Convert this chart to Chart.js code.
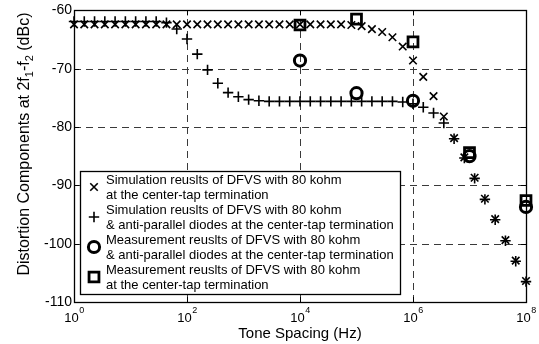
<!DOCTYPE html>
<html><head><meta charset="utf-8">
<script src="https://cdn.jsdelivr.net/npm/chart.js@4/dist/chart.umd.min.js"></script>
<style>html,body{margin:0;padding:0;background:#fff}#wrap{width:539px;height:344px;position:relative}</style>
</head><body><div id="wrap"><canvas id="c" width="539" height="344"></canvas></div>
<script>
// Tone spacing (Hz), log-spaced sample points of the simulations
const toneSpacingHz = [1, 1.520, 2.310, 3.511, 5.337, 8.111, 12.33, 18.74, 28.48, 43.29, 65.79,
  100, 152.0, 231.0, 351.1, 533.7, 811.1, 1233, 1874, 2848, 4329, 6579,
  1e4, 15199, 23101, 35112, 53367, 81113, 123285, 187382, 284804, 432876, 657933,
  1e6, 1.520e6, 2.310e6, 3.511e6, 5.337e6, 8.111e6, 1.233e7, 1.874e7, 2.848e7, 4.329e7, 6.579e7, 1e8];
// Simulation, 80 kohm at the center-tap (x markers)
const simNoDiode = [-62.4, -62.4, -62.4, -62.4, -62.4, -62.4, -62.4, -62.4, -62.4, -62.4, -62.4,
  -62.4, -62.4, -62.4, -62.4, -62.4, -62.4, -62.4, -62.4, -62.4, -62.4, -62.4,
  -62.4, -62.4, -62.4, -62.4, -62.4, -62.5, -62.7, -63.2, -63.7, -64.6, -66.2,
  -68.6, -71.4, -74.7, -78.2, -81.9, -85.2, -88.7, -92.3, -95.8, -99.4, -102.9, -106.4];
// Simulation, 80 kohm & anti-parallel diodes (+ markers)
const simDiode = [-61.9, -61.9, -61.9, -61.9, -61.9, -61.9, -61.9, -61.9, -61.9, -62.1, -63.2,
  -64.9, -67.5, -70.2, -72.5, -74.1, -74.8, -75.3, -75.5, -75.6, -75.6, -75.6,
  -75.6, -75.6, -75.6, -75.6, -75.6, -75.6, -75.6, -75.6, -75.6, -75.6, -75.7,
  -76.0, -76.6, -77.6, -79.3, -82.0, -85.3, -88.8, -92.4, -95.9, -99.5, -103.0, -106.5];
// Measurements
const measHz = [1e4, 1e5, 1e6, 1e7, 1e8];
const measDiode = [-68.6, -74.2, -75.5, -85.0, -93.7];     // circles
const measNoDiode = [-62.5, -61.5, -65.4, -84.4, -92.6];   // squares
// Axes
const xTickValues = [1, 1e2, 1e4, 1e6, 1e8];
const xTickExponents = ['0', '2', '4', '6', '8'];
const yTickValues = [-60, -70, -80, -90, -100, -110];
const xTitle = 'Tone Spacing (Hz)';
const yTitleParts = [['Distortion Components at 2f', false], ['1', true], ['-f', false], ['2', true], [' (dBc)', false]];
const legendLabels = [
  ['Simulation reuslts of DFVS with 80 kohm', 'at the center-tap termination'],
  ['Simulation reuslts of DFVS with 80 kohm', '& anti-parallel diodes at the center-tap termination'],
  ['Measurement reuslts of DFVS with 80 kohm', '& anti-parallel diodes at the center-tap termination'],
  ['Measurement reuslts of DFVS with 80 kohm', 'at the center-tap termination']
];

const FONT = '"Liberation Sans", Arial, Helvetica, sans-serif';
const styles = [
  {pointStyle: 'crossRot', radius: 5.3, borderWidth: 1.6},
  {pointStyle: 'cross', radius: 5.2, borderWidth: 1.6},
  {pointStyle: 'circle', radius: 5.6, borderWidth: 3},
  {pointStyle: 'rect', radius: 7, borderWidth: 2.8}
];
const pts = (xs, ys) => xs.map((x, i) => ({x: x, y: ys[i]}));
const mk = (label, data, s) => ({
  label, data, showLine: false, clip: false,
  pointStyle: s.pointStyle, pointRadius: s.radius, pointHoverRadius: s.radius,
  pointBorderWidth: s.borderWidth, pointHoverBorderWidth: s.borderWidth,
  borderColor: '#000', pointBorderColor: '#000', backgroundColor: 'rgba(0,0,0,0)', pointBackgroundColor: 'rgba(0,0,0,0)'
});

function drawMarker(ctx, s, x, y) {
  ctx.save();
  ctx.strokeStyle = '#000'; ctx.fillStyle = 'rgba(0,0,0,0)'; ctx.lineWidth = s.borderWidth;
  if (Chart.helpers && Chart.helpers.drawPoint) {
    Chart.helpers.drawPoint(ctx, {pointStyle: s.pointStyle, radius: s.radius, borderWidth: s.borderWidth, rotation: 0}, x, y);
  }
  ctx.restore();
}

const decor = {
  id: 'decor',
  beforeDatasetsDraw(chart) {
    const {ctx, chartArea: a, scales: {x, y}} = chart;
    ctx.save();
    ctx.strokeStyle = '#3a3a3a'; ctx.lineWidth = 1; ctx.setLineDash([7, 5]);
    xTickValues.slice(1, -1).forEach(v => {
      const px = Math.round(x.getPixelForValue(v)) + 0.5;
      ctx.beginPath(); ctx.moveTo(px, a.bottom); ctx.lineTo(px, a.top); ctx.stroke();
    });
    yTickValues.slice(1, -1).forEach(v => {
      const py = Math.round(y.getPixelForValue(v)) + 0.5;
      ctx.beginPath(); ctx.moveTo(a.left, py); ctx.lineTo(a.right, py); ctx.stroke();
    });
    ctx.restore();
  },
  afterDraw(chart) {
    const {ctx, chartArea: a, scales: {x, y}} = chart;
    ctx.save();
    // frame
    ctx.strokeStyle = '#000'; ctx.lineWidth = 1.3;
    ctx.strokeRect(Math.round(a.left) + 0.5, Math.round(a.top) + 0.5, Math.round(a.right - a.left), Math.round(a.bottom - a.top));
    // inward ticks
    ctx.lineWidth = 1;
    xTickValues.forEach(v => {
      const px = Math.round(x.getPixelForValue(v)) + 0.5;
      ctx.beginPath(); ctx.moveTo(px, a.bottom); ctx.lineTo(px, a.bottom - 5);
      ctx.moveTo(px, a.top); ctx.lineTo(px, a.top + 5); ctx.stroke();
    });
    yTickValues.forEach(v => {
      const py = Math.round(y.getPixelForValue(v)) + 0.5;
      ctx.beginPath(); ctx.moveTo(a.left, py); ctx.lineTo(a.left + 5, py);
      ctx.moveTo(a.right, py); ctx.lineTo(a.right - 5, py); ctx.stroke();
    });
    // x tick labels 10^n
    ctx.fillStyle = '#000'; ctx.textBaseline = 'alphabetic'; ctx.textAlign = 'left';
    xTickValues.forEach((v, i) => {
      const px = x.getPixelForValue(v);
      ctx.font = '13px ' + FONT; const w1 = ctx.measureText('10').width;
      ctx.font = '9px ' + FONT; const w2 = ctx.measureText(xTickExponents[i]).width;
      const sx = px - (w1 + w2) / 2;
      ctx.font = '13px ' + FONT; ctx.fillText('10', sx, 322);
      ctx.font = '9px ' + FONT; ctx.fillText(xTickExponents[i], sx + w1 + 0.5, 313);
    });
    // x title
    ctx.font = '15px ' + FONT; ctx.textAlign = 'center';
    ctx.fillText(xTitle, (a.left + a.right) / 2, 338);
    // y title with subscripts
    ctx.save();
    ctx.translate(29, 144);
    ctx.rotate(-Math.PI / 2);
    ctx.textAlign = 'left';
    let total = 0;
    yTitleParts.forEach(([t, sub]) => { ctx.font = (sub ? '11px ' : '16px ') + FONT; total += ctx.measureText(t).width; });
    let cx = -total / 2;
    yTitleParts.forEach(([t, sub]) => {
      ctx.font = (sub ? '11px ' : '16px ') + FONT;
      ctx.fillText(t, cx, sub ? 3.5 : 0);
      cx += ctx.measureText(t).width;
    });
    ctx.restore();
    // legend
    const L = 80, T = 171, R = 400, B = 294;
    ctx.fillStyle = '#fff'; ctx.fillRect(L, T, R - L, B - T);
    ctx.strokeStyle = '#000'; ctx.lineWidth = 1.3;
    ctx.strokeRect(L + 0.5, T + 0.5, R - L, B - T);
    ctx.fillStyle = '#000'; ctx.font = '13px ' + FONT; ctx.textBaseline = 'middle'; ctx.textAlign = 'left';
    legendLabels.forEach((lines, i) => {
      const y0 = 180.5 + 30 * i;
      ctx.fillText(lines[0], 106, y0);
      ctx.fillText(lines[1], 106, y0 + 14.5);
      drawMarker(ctx, styles[i], 94, y0 + 6.5);
    });
    ctx.restore();
  }
};

new Chart(document.getElementById('c'), {
  type: 'scatter',
  data: {
    datasets: [
      mk(legendLabels[0].join(' '), pts(toneSpacingHz, simNoDiode), styles[0]),
      mk(legendLabels[1].join(' '), pts(toneSpacingHz, simDiode), styles[1]),
      mk(legendLabels[2].join(' '), pts(measHz, measDiode), styles[2]),
      mk(legendLabels[3].join(' '), pts(measHz, measNoDiode), styles[3])
    ]
  },
  options: {
    responsive: false, animation: false, devicePixelRatio: 1,
    layout: {padding: {top: 8, right: 13, left: 0, bottom: 0}},
    plugins: {legend: {display: false}, tooltip: {enabled: false}},
    events: [],
    scales: {
      x: {
        type: 'logarithmic', min: 1, max: 1e8,
        afterBuildTicks: s => { s.ticks = xTickValues.map(v => ({value: v})); },
        ticks: {display: false}, grid: {display: false, drawTicks: false}, border: {display: false},
        afterFit: s => { s.height = 42; }
      },
      y: {
        type: 'linear', min: -110, max: -60,
        afterBuildTicks: s => { s.ticks = yTickValues.map(v => ({value: v})); },
        ticks: {display: true, color: '#000', padding: 2, font: {family: FONT, size: 14}},
        grid: {display: false, drawTicks: false}, border: {display: false},
        afterFit: s => { s.width = 74; }
      }
    }
  },
  plugins: [decor]
});
</script>
</body></html>
